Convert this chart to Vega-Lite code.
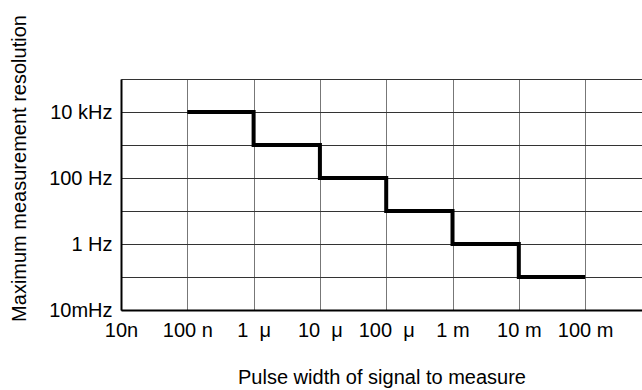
{
  "$schema": "https://vega.github.io/schema/vega-lite/v6.json",
  "autosize": "none",
  "padding": {"left": 121, "top": 79, "right": 0, "bottom": 80},
  "width": 521,
  "height": 231,
  "config": {
    "view": {"stroke": null},
    "font": "Liberation Sans",
    "axis": {
      "labelFont": "Liberation Sans",
      "titleFont": "Liberation Sans",
      "labelFontSize": 20,
      "titleFontSize": 20,
      "labelColor": "#000000",
      "titleColor": "#000000",
      "titleFontWeight": "normal",
      "domainColor": "#000000",
      "domainWidth": 2,
      "ticks": false,
      "gridOpacity": 1,
      "gridWidth": 1,
      "labelOverlap": false,
      "labelFlush": false,
      "labelBound": false
    }
  },
  "data": {
    "values": [
      {"pulse": 1e-7, "resolution": 10000},
      {"pulse": 1e-6, "resolution": 1000},
      {"pulse": 1e-5, "resolution": 100},
      {"pulse": 1e-4, "resolution": 10},
      {"pulse": 1e-3, "resolution": 1},
      {"pulse": 1e-2, "resolution": 0.1},
      {"pulse": 1e-1, "resolution": 0.1}
    ]
  },
  "mark": {"type": "line", "interpolate": "step-after", "color": "#000000", "strokeWidth": 4, "clip": true},
  "encoding": {
    "x": {
      "field": "pulse",
      "type": "quantitative",
      "scale": {"type": "log", "domain": [1e-8, 0.721], "nice": false, "zero": false},
      "axis": {
        "title": "Pulse width of signal to measure",
        "values": [1e-8, 1e-7, 1e-6, 1e-5, 1e-4, 1e-3, 1e-2, 1e-1],
        "labelExpr": "round(log(datum.value)/LN10) == -8 ? '\u00a0\u00a0\u00a010n' : round(log(datum.value)/LN10) == -7 ? '100 n' : round(log(datum.value)/LN10) == -6 ? '1\u00a0\u00a0μ' : round(log(datum.value)/LN10) == -5 ? '10\u00a0\u00a0μ' : round(log(datum.value)/LN10) == -4 ? '100\u00a0\u00a0μ' : round(log(datum.value)/LN10) == -3 ? '1 m' : round(log(datum.value)/LN10) == -2 ? '10 m' : '100 m'",
        "labelBaseline": "top",
        "labelPadding": 10,
        "grid": true,
        "gridColor": "#777777",
        "titleY": 73,
        "titleBaseline": "alphabetic"
      }
    },
    "y": {
      "field": "resolution",
      "type": "quantitative",
      "scale": {"type": "log", "domain": [0.01, 100000], "nice": false, "zero": false},
      "axis": {
        "title": "Maximum measurement resolution",
        "values": [0.01, 0.1, 1, 10, 100, 1000, 10000, 100000],
        "labelExpr": "round(log(datum.value)/LN10) == -2 ? '10mHz' : round(log(datum.value)/LN10) == 0 ? '1 Hz' : round(log(datum.value)/LN10) == 2 ? '100 Hz' : round(log(datum.value)/LN10) == 4 ? '10 kHz' : ''",
        "labelBaseline": "middle",
        "labelPadding": 9,
        "grid": true,
        "gridColor": "#333333",
        "titleAngle": -90,
        "titleAlign": "center",
        "titleBaseline": "alphabetic",
        "titleX": -96,
        "titleY": 89
      }
    }
  }
}
